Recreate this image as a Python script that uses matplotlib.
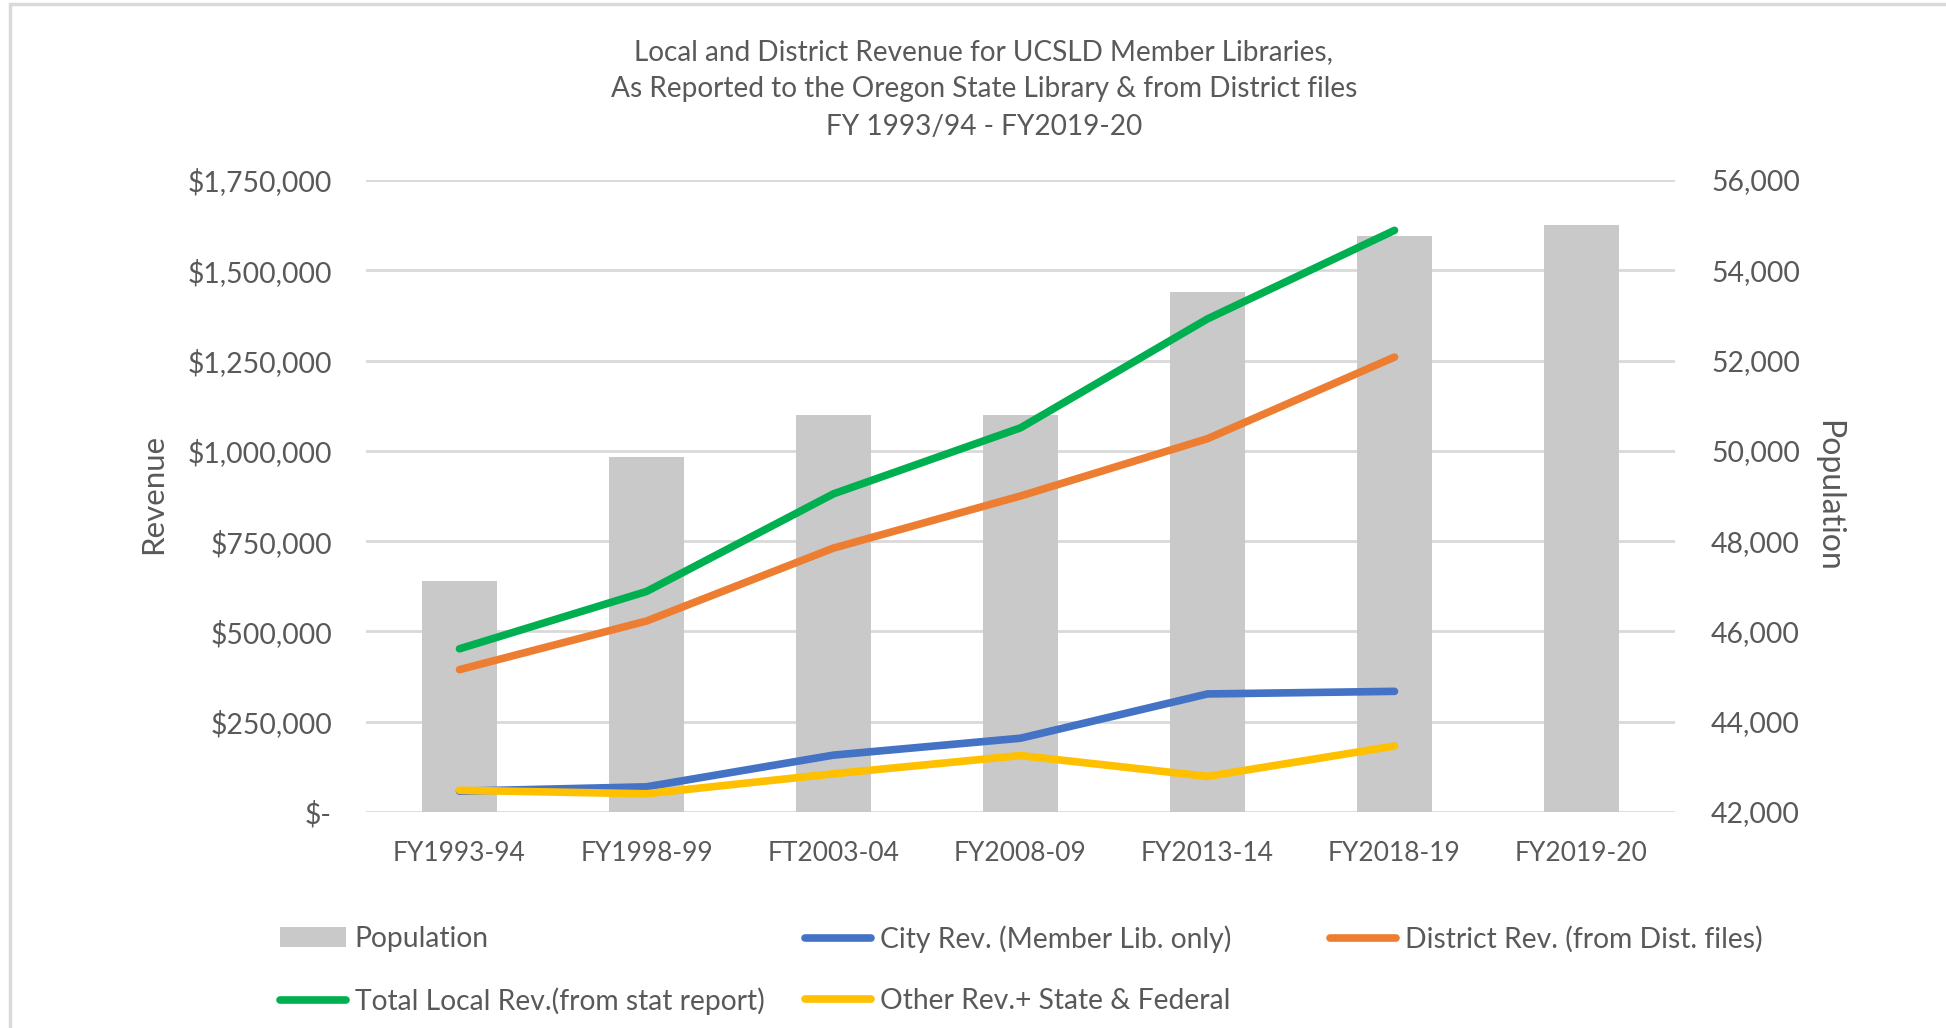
import matplotlib
matplotlib.use('Agg')
import matplotlib.pyplot as plt
from matplotlib.patches import Rectangle
from matplotlib.ticker import FuncFormatter
import numpy as np

plt.rcParams['font.family'] = ['Lato', 'DejaVu Sans']

# Data
years = ['FY1993-94', 'FY1998-99', 'FT2003-04', 'FY2008-09', 'FY2013-14', 'FY2018-19', 'FY2019-20']
population = [47115, 49875, 50790, 50790, 53510, 54750, 55010]
city_rev = [57700, 69700, 157500, 204300, 326900, 334100, np.nan]
district_rev = [394200, 528800, 730800, 875000, 1033700, 1259600, np.nan]
total_local_rev = [451900, 610600, 881000, 1063700, 1365400, 1610600, np.nan]
other_rev = [60100, 50500, 105800, 156250, 98600, 182700, np.nan]

title_lines = ['Local and District Revenue for UCSLD Member Libraries,',
               'As Reported to the Oregon State Library & from District files',
               'FY 1993/94 - FY2019-20']

text_color = '#595959'
grid_color = '#D9D9D9'

W, H = 1946, 1028
fig = plt.figure(figsize=(W / 100, H / 100), dpi=100)
fig.patch.set_facecolor('white')

# chart-area border (cropped on the right and bottom in the original)
fig.add_artist(Rectangle((10 / W, -0.05), 1.1, 1.05 - 4 / H, transform=fig.transFigure,
                         fill=False, edgecolor='#D9D9D9', linewidth=2.5))

ax = fig.add_axes([366 / W, 1 - 812 / H, (1675 - 366) / W, (812 - 180) / H])
ax2 = ax.twinx()
x = np.arange(len(years))

# population bars on the secondary axis, behind the lines
ax2.bar(x, population, width=0.4, color='#C9C9C9', zorder=2)
ax2.set_ylim(42000, 56000)
ax2.set_yticks(np.arange(42000, 56001, 2000))
ax2.yaxis.set_major_formatter(FuncFormatter(lambda v, p: f'{int(v):,}'))
ax2.grid(axis='y', color=grid_color, linewidth=2, zorder=0)
ax2.set_axisbelow(True)

ax.set_zorder(ax2.get_zorder() + 1)
ax.patch.set_visible(False)

series = [
    (city_rev, '#4472C4', 'City Rev. (Member Lib. only)'),
    (district_rev, '#ED7D31', 'District Rev. (from Dist. files)'),
    (total_local_rev, '#00B050', 'Total Local Rev.(from stat report)'),
    (other_rev, '#FFC000', 'Other Rev.+ State & Federal'),
]
lines = []
for vals, col, lab in series:
    ln, = ax.plot(x, vals, color=col, linewidth=5.5, solid_capstyle='round',
                  solid_joinstyle='round', label=lab)
    lines.append(ln)

ax.set_xlim(-0.5, len(years) - 0.5)
ax.set_ylim(0, 1750000)
ax.set_yticks(np.arange(0, 1750001, 250000))
ax.yaxis.set_major_formatter(FuncFormatter(lambda v, p: '$-' if v == 0 else f'${int(v):,}'))
ax.set_xticks(x)
ax.set_xticklabels(years)

for a in (ax, ax2):
    for s in a.spines.values():
        s.set_visible(False)
    a.tick_params(length=0, labelsize=20.4, labelcolor=text_color)
ax.tick_params(axis='y', pad=24.5)
ax2.tick_params(axis='y', pad=26)
ax.tick_params(axis='x', pad=21, labelsize=19)

fig.text(153 / W, 1 - 494 / H, 'Revenue', rotation=90, ha='center', va='center',
         fontsize=22.5, color=text_color)
fig.text(1828 / W, 1 - 496 / H, 'Population', rotation=270, ha='center', va='center',
         fontsize=23, color=text_color)

for i, t in enumerate(title_lines):
    fig.text(984 / W, 1 - (52 + 37.5 * i) / H, t, ha='center', va='center',
             fontsize=20.2, color=text_color)

# legend laid out in Excel's equal-width grid
bars = ax2.containers[0]
entries = [
    (bars, 'Population', 280, 939),
    (lines[0], series[0][2], 805, 939),
    (lines[1], series[1][2], 1330, 939),
    (lines[2], series[2][2], 280, 1001),
    (lines[3], series[3][2], 805, 1001),
]
for h, lab, px, py in entries:
    fig.legend([h], [lab], loc='center left', bbox_to_anchor=(px / W, 1 - py / H),
               frameon=False, borderpad=0, borderaxespad=0, fontsize=20.3,
               handlelength=2.35, handleheight=0.7, handletextpad=0.3,
               labelcolor=text_color)

fig.savefig('out.png', dpi=100)
